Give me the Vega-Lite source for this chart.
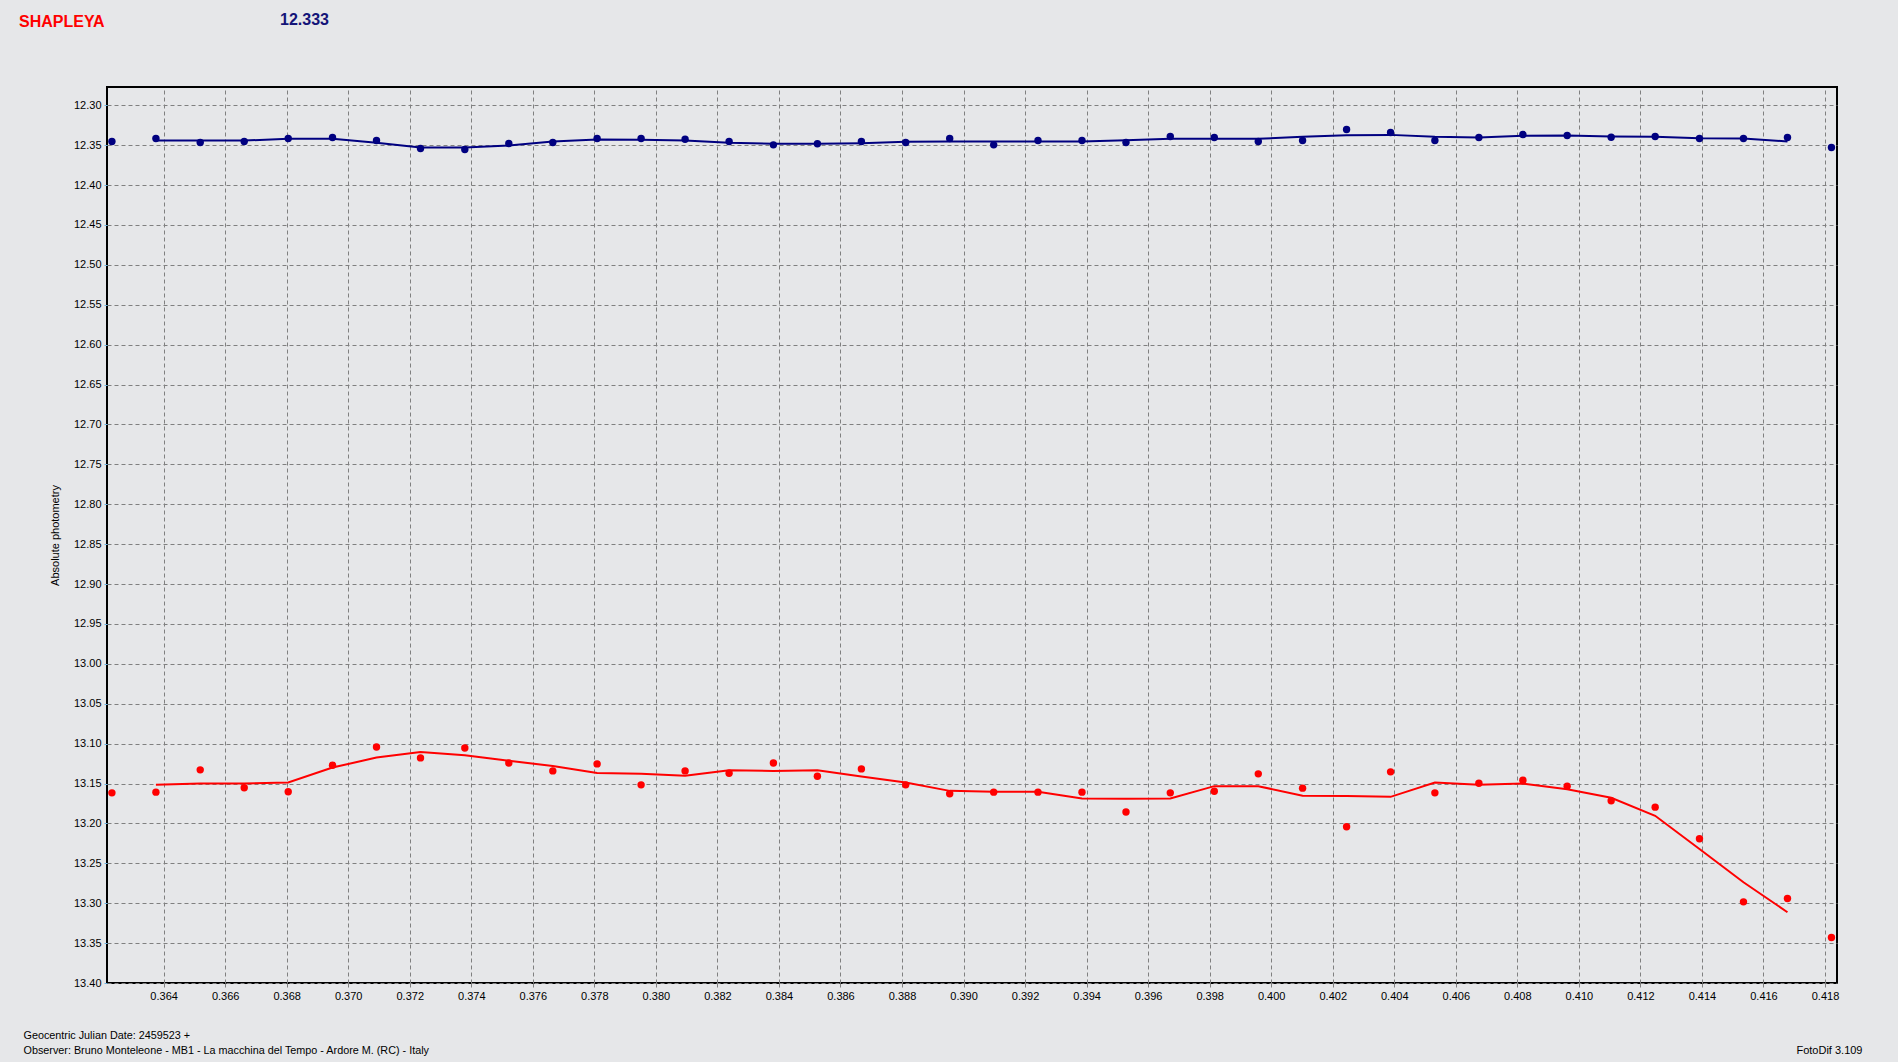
{
  "$schema": "https://vega.github.io/schema/vega-lite/v6.json",
  "autosize": "none",
  "width": 1730,
  "height": 896,
  "padding": {"left": 107, "top": 87, "right": 61, "bottom": 79},
  "background": "#e6e7e9",
  "config": {
    "view": {"fill": "#e6e7e9", "stroke": "#000000", "strokeWidth": 2},
    "font": "Liberation Sans"
  },
  "title": {
    "text": "SHAPLEYA",
    "anchor": "start",
    "frame": "group",
    "dx": -88,
    "dy": 32,
    "offset": 0,
    "color": "#ff0000",
    "fontSize": 16,
    "fontWeight": "bold",
    "font": "Liberation Sans",
    "baseline": "alphabetic"
  },
  "data": {
    "values": [
      {"s": "comp", "jd": 0.36232, "mag": 12.3454, "avg": null},
      {"s": "comp", "jd": 0.36375, "mag": 12.3417, "avg": 12.3442},
      {"s": "comp", "jd": 0.36519, "mag": 12.3467, "avg": 12.3442},
      {"s": "comp", "jd": 0.36662, "mag": 12.3454, "avg": 12.3442},
      {"s": "comp", "jd": 0.36805, "mag": 12.3417, "avg": 12.3421},
      {"s": "comp", "jd": 0.36949, "mag": 12.3404, "avg": 12.3421},
      {"s": "comp", "jd": 0.37092, "mag": 12.3442, "avg": 12.347},
      {"s": "comp", "jd": 0.37235, "mag": 12.3542, "avg": 12.3529},
      {"s": "comp", "jd": 0.37379, "mag": 12.3554, "avg": 12.3529},
      {"s": "comp", "jd": 0.37522, "mag": 12.3479, "avg": 12.3504},
      {"s": "comp", "jd": 0.37665, "mag": 12.3467, "avg": 12.3454},
      {"s": "comp", "jd": 0.37809, "mag": 12.3417, "avg": 12.3429},
      {"s": "comp", "jd": 0.37952, "mag": 12.3417, "avg": 12.3433},
      {"s": "comp", "jd": 0.38095, "mag": 12.3425, "avg": 12.3442},
      {"s": "comp", "jd": 0.38238, "mag": 12.3454, "avg": 12.3471},
      {"s": "comp", "jd": 0.38382, "mag": 12.3496, "avg": 12.3483},
      {"s": "comp", "jd": 0.38525, "mag": 12.3483, "avg": 12.3483},
      {"s": "comp", "jd": 0.38668, "mag": 12.3454, "avg": 12.3475},
      {"s": "comp", "jd": 0.38812, "mag": 12.3467, "avg": 12.3458},
      {"s": "comp", "jd": 0.38955, "mag": 12.3417, "avg": 12.3454},
      {"s": "comp", "jd": 0.39098, "mag": 12.3496, "avg": 12.3454},
      {"s": "comp", "jd": 0.39242, "mag": 12.3442, "avg": 12.3454},
      {"s": "comp", "jd": 0.39385, "mag": 12.3442, "avg": 12.3454},
      {"s": "comp", "jd": 0.39528, "mag": 12.3467, "avg": 12.3438},
      {"s": "comp", "jd": 0.39672, "mag": 12.3392, "avg": 12.3421},
      {"s": "comp", "jd": 0.39815, "mag": 12.3404, "avg": 12.3421},
      {"s": "comp", "jd": 0.39958, "mag": 12.3454, "avg": 12.3421},
      {"s": "comp", "jd": 0.40102, "mag": 12.3442, "avg": 12.3396},
      {"s": "comp", "jd": 0.40245, "mag": 12.3304, "avg": 12.3375},
      {"s": "comp", "jd": 0.40388, "mag": 12.3342, "avg": 12.3371},
      {"s": "comp", "jd": 0.40532, "mag": 12.3442, "avg": 12.3396},
      {"s": "comp", "jd": 0.40675, "mag": 12.3404, "avg": 12.3404},
      {"s": "comp", "jd": 0.40818, "mag": 12.3367, "avg": 12.3383},
      {"s": "comp", "jd": 0.40962, "mag": 12.3379, "avg": 12.3379},
      {"s": "comp", "jd": 0.41105, "mag": 12.34, "avg": 12.3392},
      {"s": "comp", "jd": 0.41248, "mag": 12.3392, "avg": 12.3396},
      {"s": "comp", "jd": 0.41392, "mag": 12.3417, "avg": 12.3413},
      {"s": "comp", "jd": 0.41535, "mag": 12.3417, "avg": 12.3417},
      {"s": "comp", "jd": 0.41678, "mag": 12.3404, "avg": 12.3454},
      {"s": "comp", "jd": 0.41821, "mag": 12.3529, "avg": null},
      {"s": "var", "jd": 0.36232, "mag": 13.1617, "avg": null},
      {"s": "var", "jd": 0.36375, "mag": 13.1608, "avg": 13.1517},
      {"s": "var", "jd": 0.36519, "mag": 13.1329, "avg": 13.15},
      {"s": "var", "jd": 0.36662, "mag": 13.1554, "avg": 13.15},
      {"s": "var", "jd": 0.36805, "mag": 13.1604, "avg": 13.1488},
      {"s": "var", "jd": 0.36949, "mag": 13.1271, "avg": 13.13},
      {"s": "var", "jd": 0.37092, "mag": 13.1042, "avg": 13.1175},
      {"s": "var", "jd": 0.37235, "mag": 13.1179, "avg": 13.1104},
      {"s": "var", "jd": 0.37379, "mag": 13.1054, "avg": 13.1146},
      {"s": "var", "jd": 0.37522, "mag": 13.1242, "avg": 13.1215},
      {"s": "var", "jd": 0.37665, "mag": 13.1342, "avg": 13.128},
      {"s": "var", "jd": 0.37809, "mag": 13.1254, "avg": 13.1367},
      {"s": "var", "jd": 0.37952, "mag": 13.1517, "avg": 13.1379},
      {"s": "var", "jd": 0.38095, "mag": 13.1342, "avg": 13.1404},
      {"s": "var", "jd": 0.38238, "mag": 13.1371, "avg": 13.1333},
      {"s": "var", "jd": 0.38382, "mag": 13.1242, "avg": 13.1342},
      {"s": "var", "jd": 0.38525, "mag": 13.1408, "avg": 13.1333},
      {"s": "var", "jd": 0.38668, "mag": 13.1317, "avg": 13.1413},
      {"s": "var", "jd": 0.38812, "mag": 13.1517, "avg": 13.1488},
      {"s": "var", "jd": 0.38955, "mag": 13.1629, "avg": 13.1592},
      {"s": "var", "jd": 0.39098, "mag": 13.1608, "avg": 13.1604},
      {"s": "var", "jd": 0.39242, "mag": 13.1608, "avg": 13.1604},
      {"s": "var", "jd": 0.39385, "mag": 13.1608, "avg": 13.1688},
      {"s": "var", "jd": 0.39528, "mag": 13.1858, "avg": 13.1692},
      {"s": "var", "jd": 0.39672, "mag": 13.1617, "avg": 13.1688},
      {"s": "var", "jd": 0.39815, "mag": 13.1596, "avg": 13.1533},
      {"s": "var", "jd": 0.39958, "mag": 13.1379, "avg": 13.1533},
      {"s": "var", "jd": 0.40102, "mag": 13.1558, "avg": 13.1654},
      {"s": "var", "jd": 0.40245, "mag": 13.2042, "avg": 13.1658},
      {"s": "var", "jd": 0.40388, "mag": 13.1354, "avg": 13.1667},
      {"s": "var", "jd": 0.40532, "mag": 13.1617, "avg": 13.1488},
      {"s": "var", "jd": 0.40675, "mag": 13.1496, "avg": 13.1517},
      {"s": "var", "jd": 0.40818, "mag": 13.1458, "avg": 13.15},
      {"s": "var", "jd": 0.40962, "mag": 13.1533, "avg": 13.1571},
      {"s": "var", "jd": 0.41105, "mag": 13.1717, "avg": 13.1679},
      {"s": "var", "jd": 0.41248, "mag": 13.1796, "avg": 13.1904},
      {"s": "var", "jd": 0.41392, "mag": 13.2192, "avg": 13.2321},
      {"s": "var", "jd": 0.41535, "mag": 13.2983, "avg": 13.2738},
      {"s": "var", "jd": 0.41678, "mag": 13.2942, "avg": 13.3113},
      {"s": "var", "jd": 0.41821, "mag": 13.3429, "avg": null}
    ]
  },
  "layer": [
    {
      "transform": [{"filter": "datum.avg != null"}],
      "mark": {"type": "line", "strokeWidth": 2, "interpolate": "linear"},
      "encoding": {
        "x": {
          "field": "jd", "type": "quantitative",
          "scale": {"domain": [0.36216, 0.41839], "nice": false, "zero": false},
          "axis": {
            "orient": "top", "title": "12.333", "labels": false, "ticks": false, "domain": false, "grid": false,
            "titleX": 197, "titleY": -68, "titleAlign": "center", "titleBaseline": "middle",
            "titleColor": "#141478", "titleFontSize": 16, "titleFontWeight": "bold", "titleFont": "Liberation Sans"
          }
        },
        "y": {
          "field": "avg", "type": "quantitative",
          "scale": {"domain": [12.2771, 13.4], "reverse": true, "nice": false, "zero": false},
          "axis": {
            "orient": "right", "title": "FotoDif 3.109", "labels": false, "ticks": false, "domain": false, "grid": false,
            "titleAngle": 0, "titleX": 25, "titleY": 966, "titleAlign": "right", "titleBaseline": "alphabetic",
            "titleColor": "#000000", "titleFontSize": 11, "titleFontWeight": "normal", "titleFont": "Liberation Sans"
          }
        },
        "color": {
          "field": "s", "type": "nominal",
          "scale": {"domain": ["var", "comp"], "range": ["#ff0000", "#000080"]},
          "legend": null
        }
      }
    },
    {
      "mark": {"type": "point", "filled": true, "opacity": 1, "size": 55},
      "encoding": {
        "x": {
          "field": "jd", "type": "quantitative",
          "scale": {"domain": [0.36216, 0.41839], "nice": false, "zero": false},
          "axis": {
            "orient": "bottom",
            "values": [0.364, 0.366, 0.368, 0.37, 0.372, 0.374, 0.376, 0.378, 0.38, 0.382, 0.384, 0.386, 0.388, 0.39, 0.392, 0.394, 0.396, 0.398, 0.4, 0.402, 0.404, 0.406, 0.408, 0.41, 0.412, 0.414, 0.416, 0.418],
            "format": ".3f",
            "grid": true, "gridColor": "#808080", "gridDash": [4, 3], "gridWidth": 1, "gridOpacity": 1,
            "domain": false, "ticks": true, "tickSize": 4, "tickColor": "#808080",
            "labelFontSize": 11, "labelColor": "#000000", "labelPadding": 3, "labelFont": "Liberation Sans",
            "labelOverlap": false, "labelFlush": false,
            "title": ["Geocentric Julian Date: 2459523 +", "Observer: Bruno Monteleone - MB1 - La macchina del Tempo - Ardore M. (RC) - Italy"],
            "titleX": -84, "titleY": 55, "titleAlign": "left", "titleBaseline": "alphabetic",
            "titleFontSize": 10.8, "titleFontWeight": "normal", "titleLineHeight": 15.5, "titleColor": "#000000", "titleFont": "Liberation Sans"
          }
        },
        "y": {
          "field": "mag", "type": "quantitative",
          "scale": {"domain": [12.2771, 13.4], "reverse": true, "nice": false, "zero": false},
          "axis": {
            "orient": "left",
            "values": [12.3, 12.35, 12.4, 12.45, 12.5, 12.55, 12.6, 12.65, 12.7, 12.75, 12.8, 12.85, 12.9, 12.95, 13.0, 13.05, 13.1, 13.15, 13.2, 13.25, 13.3, 13.35, 13.4],
            "format": ".2f",
            "grid": true, "gridColor": "#808080", "gridDash": [4, 3], "gridWidth": 1, "gridOpacity": 1,
            "domain": false, "ticks": true, "tickSize": 3, "tickColor": "#6fb3e0",
            "labelFontSize": 11, "labelColor": "#000000", "labelPadding": 3, "labelFont": "Liberation Sans",
            "labelOverlap": false, "labelFlush": false,
            "title": "Absolute photometry",
            "titleX": -52, "titleY": 448, "titleAngle": -90, "titleAlign": "center", "titleBaseline": "middle",
            "titleFontSize": 11, "titleFontWeight": "normal", "titleColor": "#000000", "titleFont": "Liberation Sans"
          }
        },
        "color": {
          "field": "s", "type": "nominal",
          "scale": {"domain": ["var", "comp"], "range": ["#ff0000", "#000080"]},
          "legend": null
        }
      }
    }
  ],
  "resolve": {"axis": {"x": "independent", "y": "independent"}}
}
